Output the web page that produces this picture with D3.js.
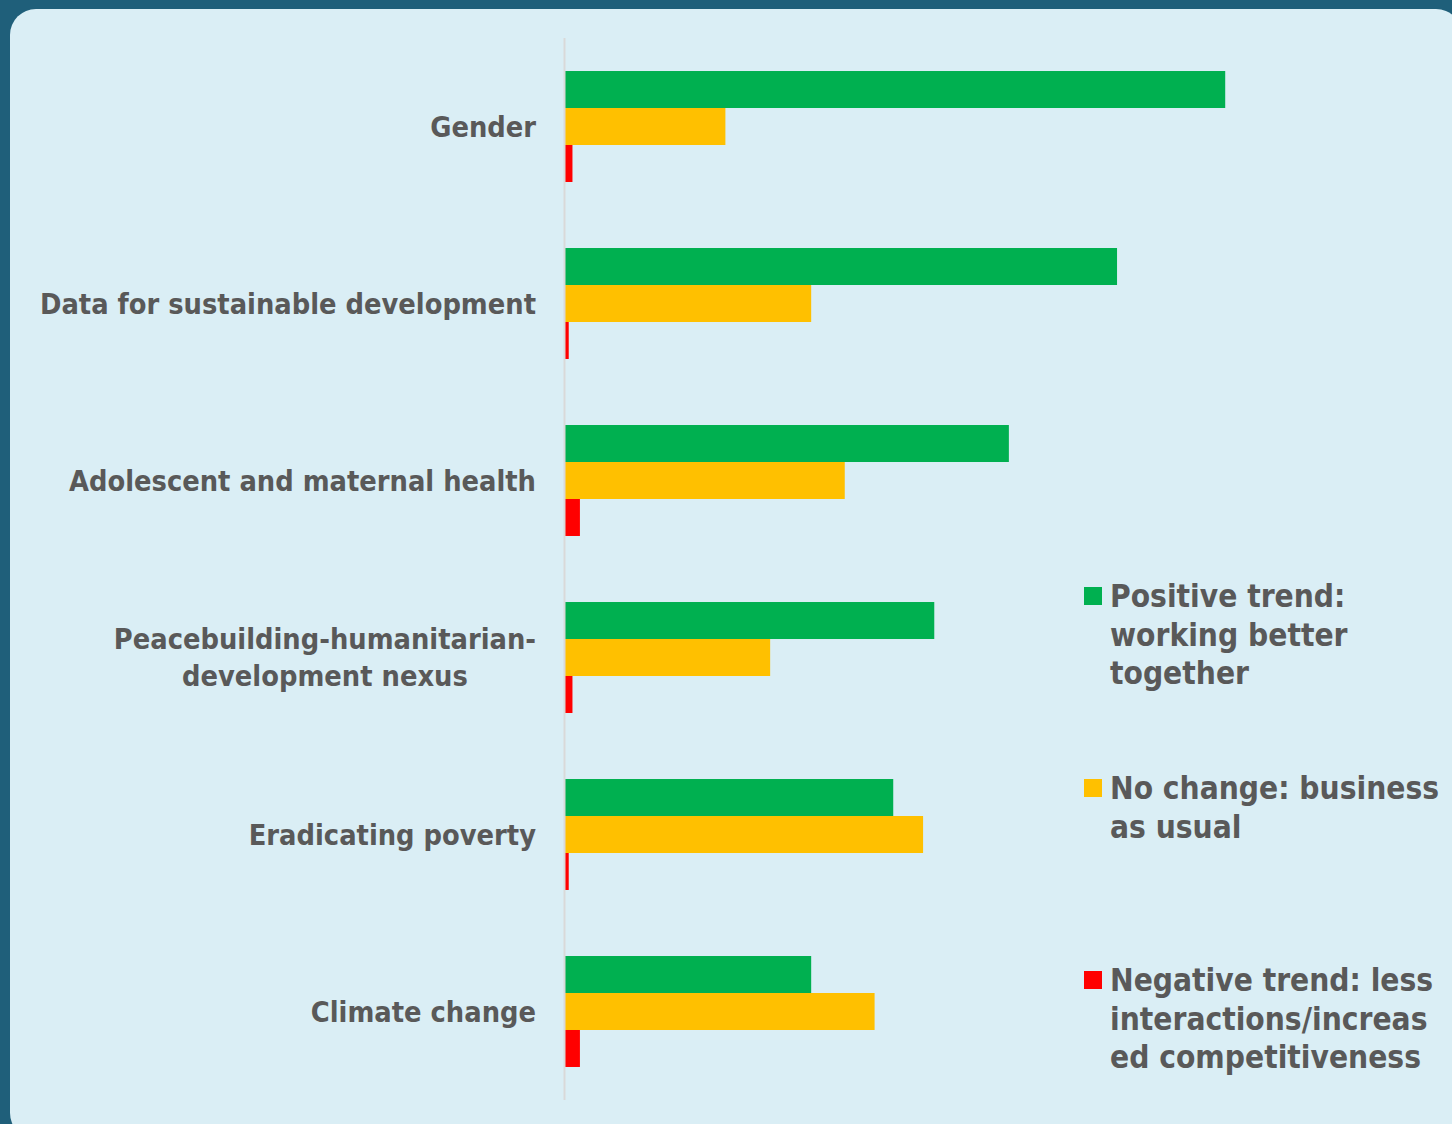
<!DOCTYPE html>
<html>
<head>
<meta charset="utf-8">
<script src="https://cdn.jsdelivr.net/npm/d3@7"></script>
<style>
  html, body { margin: 0; padding: 0; background: #1f5f7a; }
  svg { display: block; }
  text { font-family: "DejaVu Sans Condensed", Tahoma, "DejaVu Sans", sans-serif; font-weight: bold; fill: #595959; }
</style>
</head>
<body>
<svg id="chart" width="1452" height="1124"></svg>
<script>
// categories, top to bottom (label lines)
var categories = [
    ['Gender'],
    ['Data for sustainable development'],
    ['Adolescent and maternal health'],
    ['Peacebuilding-humanitarian-', 'development nexus'],
    ['Eradicating poverty'],
    ['Climate change']
];
// series, in the order drawn inside each group
var seriesNames = ['positive', 'nochange', 'negative'];
var positive = [177, 148, 119, 99, 88, 66];
var nochange = [43, 66, 75, 55, 96, 83];
var negative = [2, 1, 4, 2, 1, 4];
var legendLabels = [
    ['Positive trend:', 'working better', 'together'],
    ['No change: business', 'as usual'],
    ['Negative trend: less', 'interactions/increas', 'ed competitiveness']
];
var colors = ['#00b050', '#ffc000', '#ff0000'];

var svg = d3.select('#chart');
var W = 1452, H = 1124;

// rounded light panel
svg.append('rect')
    .attr('x', 10).attr('y', 9)
    .attr('width', W).attr('height', H + 6)
    .attr('rx', 26).attr('ry', 26)
    .attr('fill', '#daeef5');

var x0 = 565;
var x = d3.scaleLinear().domain([0, 200]).range([x0, x0 + 746]);
var y = d3.scaleBand()
    .domain(d3.range(categories.length))
    .range([38, 1100])
    .paddingInner(0.373)
    .paddingOuter(0.1865);
var ySub = d3.scaleBand()
    .domain(seriesNames)
    .range([0, y.bandwidth()]);

var values = { positive: positive, nochange: nochange, negative: negative };

// bars
var groups = svg.selectAll('g.group')
    .data(categories)
    .enter().append('g')
    .attr('class', 'group')
    .attr('transform', function(d, i) { return 'translate(0,' + y(i) + ')'; });

groups.selectAll('rect')
    .data(function(d, i) {
        return seriesNames.map(function(s, j) { return { s: s, v: values[s][i], c: colors[j] }; });
    })
    .enter().append('rect')
    .attr('x', x(0))
    .attr('y', function(d) { return ySub(d.s); })
    .attr('width', function(d) { return x(d.v) - x(0); })
    .attr('height', ySub.bandwidth())
    .attr('fill', function(d) { return d.c; });

// category axis line
svg.append('line')
    .attr('x1', x(0) - 0.5).attr('x2', x(0) - 0.5)
    .attr('y1', 38).attr('y2', 1100)
    .attr('stroke', '#d9d9d9').attr('stroke-width', 2);

// category labels, right aligned block, lines centred among themselves
var fontSize = 28.7, lineH = 37, labelRight = 536;
categories.forEach(function(lines, i) {
    var cy = y(i) + y.bandwidth() / 2;
    var g = svg.append('g');
    var texts = lines.map(function(l, k) {
        return g.append('text')
            .attr('font-size', fontSize)
            .attr('y', cy + (k - (lines.length - 1) / 2) * lineH)
            .attr('dy', '0.36em')
            .attr('text-anchor', 'middle')
            .text(l);
    });
    var maxW = d3.max(texts, function(t) { return t.node().getComputedTextLength(); });
    texts.forEach(function(t) { t.attr('x', labelRight - maxW / 2); });
});

// legend
var legendFont = 31.4;
var legendY = d3.scalePoint().domain(d3.range(legendLabels.length)).range([596, 980]);
legendLabels.forEach(function(lines, i) {
    var ly = legendY(i);
    svg.append('rect')
        .attr('x', 1084).attr('y', ly - 9)
        .attr('width', 18).attr('height', 18)
        .attr('fill', colors[i]);
    lines.forEach(function(l, k) {
        svg.append('text')
            .attr('font-size', legendFont)
            .attr('x', 1110)
            .attr('y', ly + k * 38.5)
            .attr('dy', '0.36em')
            .text(l);
    });
});
</script>
</body>
</html>
